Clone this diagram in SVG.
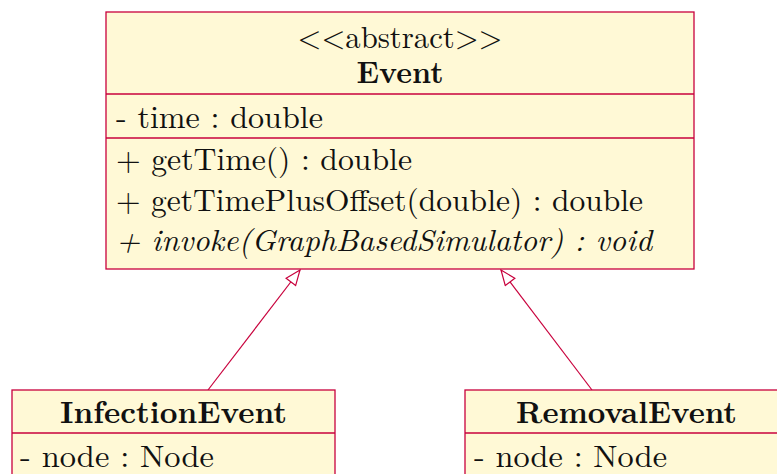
<svg xmlns="http://www.w3.org/2000/svg" width="777" height="474" viewBox="0 0 777 474">
  <style>
    .box { fill: #FFF9D6; stroke: #C8003C; stroke-width: 1.3; }
    .sep { stroke: #C8003C; stroke-width: 1.3; }
    .edge { stroke: #C8003C; stroke-width: 1.2; fill: none; }
  </style>
  <defs>
    <marker id="inherit" markerUnits="userSpaceOnUse" markerWidth="20" markerHeight="16" refX="16" refY="7" orient="auto">
      <path d="M1,1 L16,7 L1,13 Z" fill="#FFFFFF" stroke="#C8003C" stroke-width="1.2"/>
    </marker>
  </defs>

  <!-- generalisation links -->
  <g id="connectors">
    <line class="edge" x1="208" y1="390" x2="300" y2="270" marker-end="url(#inherit)"/>
    <line class="edge" x1="592" y1="390" x2="501" y2="270" marker-end="url(#inherit)"/>
  </g>

  <!-- abstract base class -->
  <g id="Event">
    <rect class="box" x="106" y="12" width="588" height="257"/>
    <line class="sep" x1="106" y1="94" x2="694" y2="94"/>
    <line class="sep" x1="106" y1="138" x2="694" y2="138"/>
    <text x="400" y="48" text-anchor="middle" font-family="'Latin Modern Roman', 'Liberation Serif', serif" font-size="31" fill="#111" textLength="205" lengthAdjust="spacingAndGlyphs">&lt;&lt;abstract&gt;&gt;</text>
    <text x="400" y="83" text-anchor="middle" font-family="'Latin Modern Roman', 'Liberation Serif', serif" font-size="31" font-weight="bold" fill="#111" textLength="87" lengthAdjust="spacingAndGlyphs">Event</text>
    <text x="116" y="128" font-family="'Latin Modern Roman', 'Liberation Serif', serif" font-size="31" fill="#111" textLength="207" lengthAdjust="spacingAndGlyphs">- time :  double</text>
    <text x="116" y="170" font-family="'Latin Modern Roman', 'Liberation Serif', serif" font-size="31" fill="#111" textLength="296" lengthAdjust="spacingAndGlyphs">+ getTime() :  double</text>
    <text x="116" y="211" font-family="'Latin Modern Roman', 'Liberation Serif', serif" font-size="31" fill="#111" textLength="527" lengthAdjust="spacingAndGlyphs">+ getTimePlusOffset(double) :  double</text>
    <text x="116" y="251" font-family="'Latin Modern Roman', 'Liberation Serif', serif" font-size="31" font-style="italic" fill="#111" textLength="536" lengthAdjust="spacingAndGlyphs">+ invoke(GraphBasedSimulator) :  void</text>
  </g>

  <!-- subclasses -->
  <g id="InfectionEvent">
    <rect class="box" x="12" y="390" width="323" height="100"/>
    <line class="sep" x1="12" y1="433" x2="335" y2="433"/>
    <text x="173.5" y="423" text-anchor="middle" font-family="'Latin Modern Roman', 'Liberation Serif', serif" font-size="31" font-weight="bold" fill="#111" textLength="227" lengthAdjust="spacingAndGlyphs">InfectionEvent</text>
    <text x="20" y="467" font-family="'Latin Modern Roman', 'Liberation Serif', serif" font-size="31" fill="#111" textLength="194" lengthAdjust="spacingAndGlyphs">- node :  Node</text>
  </g>

  <g id="RemovalEvent">
    <rect class="box" x="465" y="390" width="323" height="100"/>
    <line class="sep" x1="465" y1="433" x2="788" y2="433"/>
    <text x="626.5" y="423" text-anchor="middle" font-family="'Latin Modern Roman', 'Liberation Serif', serif" font-size="31" font-weight="bold" fill="#111" textLength="221" lengthAdjust="spacingAndGlyphs">RemovalEvent</text>
    <text x="474" y="467" font-family="'Latin Modern Roman', 'Liberation Serif', serif" font-size="31" fill="#111" textLength="193" lengthAdjust="spacingAndGlyphs">- node :  Node</text>
  </g>
</svg>
